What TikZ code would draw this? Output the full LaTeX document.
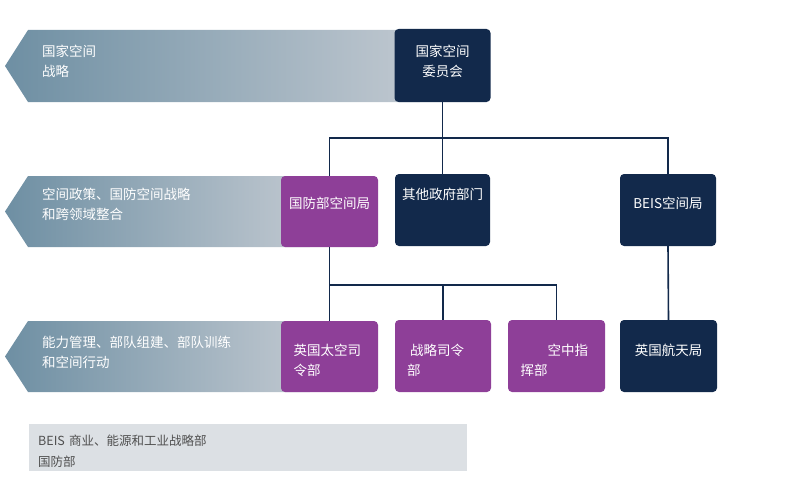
\documentclass[tikz,border=0pt]{standalone}
\usepackage{fontspec}
\setmainfont{Noto Sans CJK SC}
\usepackage{xcolor}
\usetikzlibrary{positioning}
\definecolor{navy}{RGB}{18,41,75}
\definecolor{modpurple}{RGB}{142,63,152}
\definecolor{bannerleft}{RGB}{110,143,163}
\definecolor{bannerright}{RGB}{192,200,208}
\definecolor{legendgray}{RGB}{220,224,228}
\definecolor{legendtext}{RGB}{80,80,80}
\newcommand{\boxfont}{\fontsize{13.5}{20}\selectfont}
\newcommand{\legendfont}{\fontsize{12.5}{21}\selectfont}

\begin{document}
\begin{tikzpicture}[
    x=1pt, y=-1pt,
    box/.style={rectangle, rounded corners=4pt, text=white, align=center, minimum width=96pt, minimum height=72pt, inner sep=0pt, font=\boxfont},
    navybox/.style={box, fill=navy},
    modbox/.style={box, fill=modpurple},
    cmdbox/.style={modbox, text width=72pt, align=left, text height=20pt, text depth=22pt},
    banner/.style={left color=bannerleft, right color=bannerright},
    bannertext/.style={anchor=west, align=left, text=white, inner sep=0pt, font=\boxfont},
    conn/.style={draw=navy, line width=1.6pt},
    legendbox/.style={rectangle, fill=legendgray, anchor=north west, align=left, text=legendtext, font=\legendfont, minimum width=438pt, minimum height=47pt, text width=420pt, inner xsep=9pt, inner ysep=0pt, text height=19pt, text depth=22.5pt}
]
    \useasboundingbox (0,0) rectangle (786,487);

    % Banners
    \shade[banner] (5,66) -- (28,30) -- (420,30) -- (420,102) -- (28,102) -- cycle;
    \shade[banner] (5,211.5) -- (28,176) -- (310,176) -- (310,247) -- (28,247) -- cycle;
    \shade[banner] (5,356.5) -- (28,321) -- (310,321) -- (310,392) -- (28,392) -- cycle;
    \node[bannertext] (strategy) at (42,61) {国家空间\\战略};
    \node[bannertext] (policy) at (42,204) {空间政策、国防空间战略\\和跨领域整合};
    \node[bannertext] (capability) at (42,352) {能力管理、部队组建、部队训练\\和空间行动};

    % Row 1 — council
    \node[navybox, minimum height=73pt, text height=23pt, text depth=2pt] (council) at (442.5,65.5) {国家空间\\委员会};

    % Row 2 — departments
    \node[modbox, minimum width=97pt, minimum height=71pt, text height=10pt, text depth=17pt] (mod) at (329.5,211.5) {国防部空间局};
    \node[navybox, minimum width=95pt, text height=10pt, text depth=32pt] (other) at (442.5,210) {其他政府部门};
    \node[navybox, text height=10pt, text depth=14pt] (beis) at (668,210) {BEIS空间局};

    % Row 3 — commands and agency
    \node[cmdbox, minimum width=97pt, minimum height=71pt] (ukspace) at (329.5,356.5) {英国太空司\\令部};
    \node[cmdbox] (strat) at (443,356) {\hspace*{3pt}战略司令\\部};
    \node[cmdbox, minimum width=97pt] (air) at (556.5,356) {\hspace*{27pt}空中指\\挥部};
    \node[navybox, minimum width=97pt, text height=10pt, text depth=12pt] (uksa) at (668.5,356) {英国航天局};

    % Connectors
    \coordinate (bus1) at (442.5,138);
    \coordinate (bus2) at (329.5,285);
    \draw[conn] (council.south) -- (bus1);
    \draw[conn] (mod.north) |- (bus1) -| (beis.north);
    \draw[conn] (bus1) -- (other.north);
    \draw[conn] (mod.south) -- (ukspace.north);
    \draw[conn] (bus2) -| (air.north);
    \draw[conn] (bus2 -| strat.north) -- (strat.north);
    \draw[conn] (beis.south) -- (uksa.north);

    % Legend
    \node[legendbox] (legend) at (29,424) {BEIS 商业、能源和工业战略部\\国防部};
\end{tikzpicture}
\end{document}
